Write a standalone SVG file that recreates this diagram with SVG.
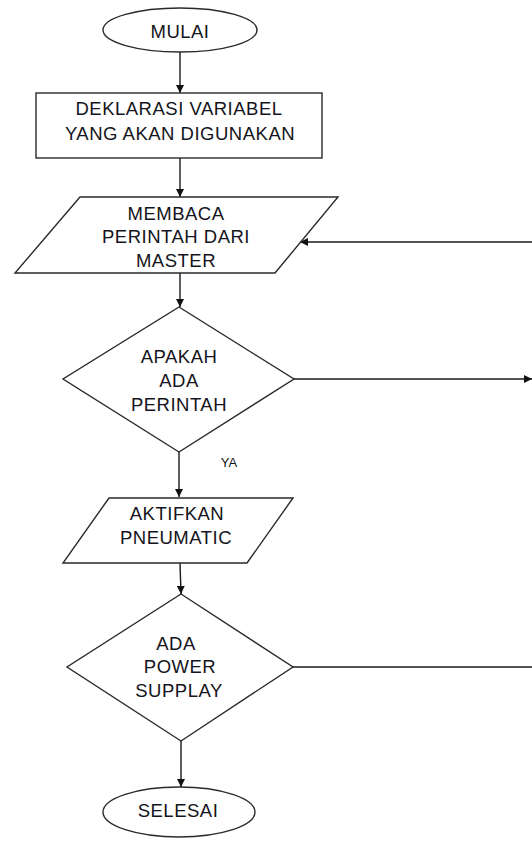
<svg xmlns="http://www.w3.org/2000/svg" width="532" height="843" viewBox="0 0 532 843">
<defs>
<marker id="arr" viewBox="0 0 10 10" refX="10" refY="5" markerWidth="8" markerHeight="8" markerUnits="userSpaceOnUse" orient="auto">
<path d="M0,0 L10,5 L0,10 Z" fill="#111"/>
</marker>
<style>
.shape{fill:#fff;stroke:#2a2a2a;stroke-width:1.4}
.t{font-family:"Liberation Sans",Arial,sans-serif;font-size:18.5px;letter-spacing:0.5px;fill:#141420;text-anchor:middle}
.s{font-family:"Liberation Sans",Arial,sans-serif;font-size:13px;fill:#141420;text-anchor:middle}
.c{fill:none;stroke:#1a1a1a;stroke-width:1.4}
</style>
</defs>
<rect width="532" height="843" fill="#fff"/>
<g id="connectors">
<line class="c" x1="180" y1="52" x2="180" y2="93" marker-end="url(#arr)"/>
<line class="c" x1="180" y1="158" x2="180" y2="197" marker-end="url(#arr)"/>
<line class="c" x1="180" y1="273" x2="180" y2="307" marker-end="url(#arr)"/>
<line class="c" x1="532" y1="242" x2="300" y2="242" marker-end="url(#arr)"/>
<line class="c" x1="294" y1="379" x2="532" y2="379" marker-end="url(#arr)"/>
<line class="c" x1="179" y1="452" x2="179" y2="497" marker-end="url(#arr)"/>
<text class="s" x="229" y="467">YA</text>
<line class="c" x1="180" y1="563" x2="181" y2="594" marker-end="url(#arr)"/>
<line class="c" x1="293" y1="667" x2="532" y2="667"/>
<line class="c" x1="181" y1="741" x2="181" y2="787" marker-end="url(#arr)"/>
</g>
<g id="mulai">
<ellipse class="shape" cx="180" cy="30" rx="77" ry="22"/>
<text class="t" x="180" y="38">MULAI</text>
</g>
<g id="deklarasi">
<rect class="shape" x="36" y="93" width="286" height="65"/>
<text class="t" x="179" y="115">DEKLARASI VARIABEL</text>
<text class="t" x="180" y="140">YANG AKAN DIGUNAKAN</text>
</g>
<g id="membaca">
<polygon class="shape" points="80,197 338,197 275,273 15,273"/>
<text class="t" x="176" y="220">MEMBACA</text>
<text class="t" x="176" y="243">PERINTAH DARI</text>
<text class="t" x="176" y="267">MASTER</text>
</g>
<g id="apakah">
<polygon class="shape" points="179,307 294,379 179,452 63,379"/>
<text class="t" x="179" y="363">APAKAH</text>
<text class="t" x="179" y="387">ADA</text>
<text class="t" x="179" y="411">PERINTAH</text>
</g>
<g id="aktifkan">
<polygon class="shape" points="109,498 293,498 247,563 63,563"/>
<text class="t" x="177" y="520">AKTIFKAN</text>
<text class="t" x="176" y="544">PNEUMATIC</text>
</g>
<g id="power">
<polygon class="shape" points="181,594 293,667 181,741 67,667"/>
<text class="t" x="176" y="650">ADA</text>
<text class="t" x="180" y="673">POWER</text>
<text class="t" x="179" y="697">SUPPLAY</text>
</g>
<g id="selesai">
<ellipse class="shape" cx="179" cy="812" rx="76" ry="25"/>
<text class="t" x="178" y="817">SELESAI</text>
</g>
</svg>
